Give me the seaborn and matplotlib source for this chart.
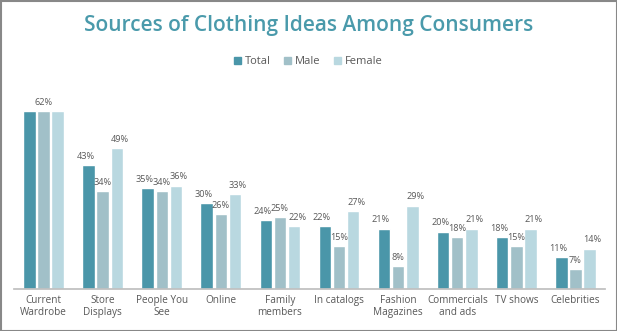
import matplotlib
matplotlib.use("Agg")
import matplotlib.pyplot as plt
import seaborn as sns
import pandas as pd
from matplotlib.patches import Rectangle

categories = ["Current\nWardrobe", "Store\nDisplays", "People You\nSee", "Online", "Family\nmembers",
              "In catalogs", "Fashion\nMagazines", "Commercials\nand ads", "TV shows", "Celebrities"]
total = [62, 43, 35, 30, 24, 22, 21, 20, 18, 11]
male = [62, 34, 34, 26, 25, 15, 8, 18, 15, 7]
female = [62, 49, 36, 33, 22, 27, 29, 21, 21, 14]
series = ["Total", "Male", "Female"]
colors = ["#4a96a9", "#a1c0c8", "#b9d8e0"]

rows = []
for i, c in enumerate(categories):
    for s, vals in zip(series, [total, male, female]):
        rows.append({"cat": c, "series": s, "value": vals[i]})
df = pd.DataFrame(rows)

sns.set_theme(style="white")
plt.rcParams['font.family'] = ['Open Sans', 'DejaVu Sans']

fig = plt.figure(figsize=(6.17, 3.31), dpi=100)
ax = fig.add_axes([14/617, 1 - 289/331, 591/617, 189/331])
sns.barplot(data=df, x="cat", y="value", hue="series", palette=colors, ax=ax,
            width=0.72, gap=0.12, saturation=1, legend=False)
ax.set_ylim(0, 65.8)
ax.set_xlim(-0.5, len(categories) - 0.5)
ax.set_xlabel("")
ax.set_ylabel("")
ax.set_yticks([])
for sp in ["top", "right", "left"]:
    ax.spines[sp].set_visible(False)
ax.spines["bottom"].set_color("#bfbfbf")
ax.tick_params(axis="x", length=0, labelsize=7.2, labelcolor="#595959", pad=4)

shift = [-0.05, 0.0, 0.05]
for j, cont in enumerate(ax.containers):
    for i, bar in enumerate(cont):
        if i == 0 and j != 1:
            continue
        v = [total, male, female][j][i]
        ax.text(bar.get_x() + bar.get_width() / 2 + shift[j], bar.get_height() + 1.5, f"{v}%",
                ha="center", va="bottom", fontsize=6.6, color="#595959")

fig.text(0.5, 1 - 26/331, "Sources of Clothing Ideas Among Consumers", ha="center", va="center",
         fontsize=15, fontweight="semibold", color="#4a9aab")

handles = [Rectangle((0, 0), 1, 1, color=c) for c in colors]
fig.legend(handles, series, loc="center", bbox_to_anchor=(0.5, 1 - 62/331), ncol=3, frameon=False,
           fontsize=8, handlelength=0.6, handleheight=0.6, handletextpad=0.4, columnspacing=1.2,
           labelcolor="#595959")

fig.patches.append(Rectangle((0.5/617, 0.5/331), 1 - 1/617, 1 - 1/331, transform=fig.transFigure,
                             fill=False, edgecolor="#888888", linewidth=1.5))
fig.savefig("out.png", dpi=100)
